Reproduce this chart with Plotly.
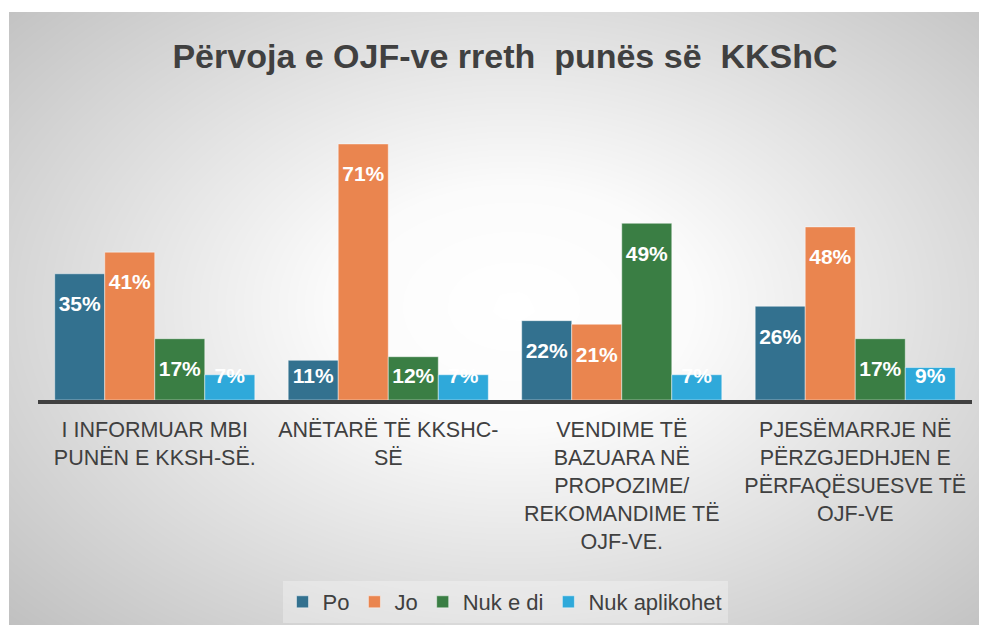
import numpy as np
import plotly.graph_objects as go

# --- dados ---
categorias = [
    "I INFORMUAR MBI<br>PUNËN E KKSH-SË.",
    "ANËTARË TË KKSHC-<br>SË",
    "VENDIME TË<br>BAZUARA NË<br>PROPOZIME/<br>REKOMANDIME TË<br>OJF-VE.",
    "PJESËMARRJE NË<br>PËRZGJEDHJEN E<br>PËRFAQËSUESVE TË<br>OJF-VE",
]
po = [35, 11, 22, 26]
jo = [41, 71, 21, 48]
nuk_e_di = [17, 12, 49, 17]
nuk_aplikohet = [7, 7, 7, 9]

series = [
    ("Po", po, "#33718F"),
    ("Jo", jo, "#EA854F"),
    ("Nuk e di", nuk_e_di, "#3A7E44"),
    ("Nuk aplikohet", nuk_aplikohet, "#2FA9DA"),
]

titulli = "Përvoja e OJF-ve rreth  punës së  KKShC"
FONT = "Liberation Sans, Arial, sans-serif"
GRI = "#404040"

# faqja ka margin 8px; figura zë vetëm pjesën brenda saj
OFF = 8
W, H = 987 - 2 * OFF, 633 - 2 * OFF


def fx(p):
    return min(max((p - OFF) / W, 0), 1)


def fy(p):
    return min(max(1 - (p - OFF) / H, 0), 1)


fig = go.Figure()

# sfondi me gradient radial (heatmap i lëmuar në nënplotin e parë)
gx = np.linspace(-0.05, 1.05, 66)
gy = np.linspace(-0.05, 1.05, 44)
X, Y = np.meshgrid(gx, gy)
r = np.sqrt(((X - 0.52) / 0.52) ** 2 + ((Y - 0.52) / 0.55) ** 2) / np.sqrt(2)
r = np.clip(r, 0, 1)
fig.add_trace(go.Heatmap(
    x=gx, y=gy, z=r, zmin=0, zmax=1, zsmooth="best",
    colorscale=[[0, "#ffffff"], [0.25, "#fbfbfb"], [1, "#bebebe"]],
    showscale=False, hoverinfo="skip", xaxis="x", yaxis="y",
))

# shtyllat
for emri, vlerat, ngjyra in series:
    fig.add_trace(go.Bar(
        name=emri, x=categorias, y=vlerat,
        marker=dict(color=ngjyra, line=dict(color="rgba(255,255,255,0.45)", width=1)),
        offsetgroup=emri, xaxis="x2", yaxis="y2", hoverinfo="skip",
    ))

# etiketat e vlerave (brenda fundit të shtyllës)
for emri, vlerat, ngjyra in series:
    fig.add_trace(go.Scatter(
        x=categorias, y=[max(v - 8.9, 6.3) for v in vlerat],
        text=[f"{v}%" for v in vlerat], mode="text",
        textfont=dict(family=FONT, size=21, color="white", weight="bold"),
        textposition="middle center", offsetgroup=emri,
        showlegend=False, hoverinfo="skip", xaxis="x2", yaxis="y2", cliponaxis=False,
    ))

fig.update_layout(
    width=W, height=H,
    margin=dict(l=0, r=0, t=0, b=0),
    paper_bgcolor="white",
    plot_bgcolor="rgba(0,0,0,0)",
    barmode="group", bargap=0.143, bargroupgap=0,
    scattermode="group", scattergap=0.143,
    font=dict(family=FONT, color=GRI),
    title=dict(text=titulli, x=fx(505), xanchor="center", y=fy(56), yanchor="middle",
               font=dict(family=FONT, size=34, color=GRI, weight="bold")),
    xaxis=dict(domain=[fx(9), 1], range=[0, 1], visible=False, fixedrange=True),
    yaxis=dict(domain=[0, fy(12)], range=[0, 1], visible=False, fixedrange=True),
    xaxis2=dict(domain=[fx(38), fx(972)], anchor="y2", showline=True, linecolor=GRI,
                linewidth=4, ticks="", showgrid=False, ticklabelstandoff=7,
                tickfont=dict(family=FONT, size=21.5, color=GRI)),
    yaxis2=dict(domain=[fy(400), fy(111.5)], anchor="x2", range=[0, 80],
                visible=False),
    legend=dict(orientation="h", x=fx(505), xanchor="center", y=fy(602), yanchor="middle",
                font=dict(family=FONT, size=22, color=GRI),
                bgcolor="rgba(255,255,255,0.3)", traceorder="normal"),
    showlegend=True,
)

fig.write_html("out.html")
